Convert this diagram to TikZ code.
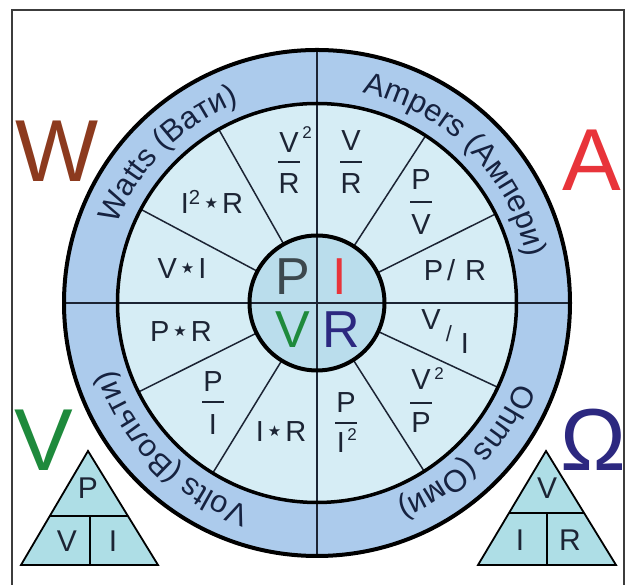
\documentclass[tikz,border=0pt]{standalone}
\usepackage{fontspec}
\setmainfont{Liberation Sans}
\newfontfamily\djv{DejaVu Sans}
\usetikzlibrary{decorations.text}
\definecolor{ringblue}{RGB}{172,203,236}
\definecolor{sectorblue}{RGB}{214,237,245}
\definecolor{coreblue}{RGB}{186,221,236}
\definecolor{tribox}{RGB}{174,222,230}
\definecolor{inktext}{RGB}{28,36,52}
\definecolor{ringink}{RGB}{22,34,64}
\definecolor{wbrown}{RGB}{140,58,30}
\definecolor{ared}{RGB}{232,52,58}
\definecolor{vgreen}{RGB}{30,138,60}
\definecolor{onavy}{RGB}{44,40,128}
\definecolor{coregray}{RGB}{60,72,78}
\definecolor{framegray}{RGB}{60,60,60}
\newcommand{\fsz}[1]{\fontsize{#1}{#1}\selectfont}
\newcommand{\mystar}{\hspace{4pt}\raisebox{5pt}{\djv\fsz{15}★}\hspace{4pt}}
\tikzset{
  fml/.style={font=\fsz{29}, text=inktext, inner sep=0pt},
  supr/.style={font=\fsz{17}, text=inktext, inner sep=0pt},
  fbar/.style={line width=1.9pt, draw=inktext},
  core/.style={font=\fsz{52}, inner sep=0pt},
  big/.style={font=\fsz{88}, inner sep=0pt},
  tri/.style={font=\fsz{30}, text=inktext, inner sep=0pt},
  ringtxt/.style={decorate, decoration={text along path, text align=center,
     text={|\fsz{31}\color{ringink}|#1}}}
}
\begin{document}
\begin{tikzpicture}[x=1pt,y=1pt]
\useasboundingbox (0,0) rectangle (632,585);
\coordinate (O) at (317,282);
% frame
\draw[framegray, line width=2pt] (12,-3) -- (12,575) -- (624,575) -- (624,-3);
% discs
\fill[ringblue] (O) circle[radius=253];
\fill[sectorblue] (O) circle[radius=199.5];
\foreach \a in {26.5,57,119.5,152,206.5,238.5,302.5,335}
  \draw[line width=1.5pt, inktext] ([shift={(\a:67.5)}]O) -- ([shift={(\a:199.5)}]O);
\fill[coreblue] (O) circle[radius=67.5];
\draw[line width=2pt, inktext] ([shift={(0,253)}]O) -- ([shift={(0,-253)}]O);
\draw[line width=2pt, inktext] ([shift={(-253,0)}]O) -- ([shift={(253,0)}]O);
\draw[line width=4pt] (O) circle[radius=253];
\draw[line width=3.5pt] (O) circle[radius=199.5];
\draw[line width=4pt] (O) circle[radius=67.5];
% ring texts
\path[ringtxt={Watts (Вати)}] ([shift={(180:215)}]O) arc[start angle=180, end angle=90, radius=215];
\path[ringtxt={Ampers (Ампери)}] ([shift={(90:215)}]O) arc[start angle=90, end angle=0, radius=215];
\path[ringtxt={Volts (Вольти)}] ([shift={(270:215)}]O) arc[start angle=270, end angle=180, radius=215];
\path[ringtxt={Ohms (Оми)}] ([shift={(360:215)}]O) arc[start angle=360, end angle=270, radius=215];
% core letters
\node[core, text=coregray] (cP) at (293,308) {P};
\node[core, text=ared] (cI) at (340,308) {I};
\node[core, text=vgreen] (cV) at (293,255) {V};
\node[core, text=onavy] (cR) at (341,255) {R};
% upper-left
\node[fml] (a1n) at (289,442) {V};
\node[supr] (a1s) at (307,452) {2};
\draw[fbar] (278,423) -- (300,423);
\node[fml] (a1d) at (289,401) {R};
\node[fml] (a2) at (212,383) {I\textsuperscript{2}\mystar R};
\node[fml] (a3) at (182,316) {V\mystar I};
% lower-left
\node[fml] (b1) at (181,253) {P\mystar R};
\node[fml] (b2n) at (213,203) {P};
\draw[fbar] (202,183) -- (224,183);
\node[fml] (b2d) at (213,160) {I};
\node[fml] (b3) at (281,153) {I\mystar R};
% upper-right
\node[fml] (c1n) at (351,444) {V};
\draw[fbar] (340,423) -- (362,423);
\node[fml] (c1d) at (351,401) {R};
\node[fml] (c2n) at (421,405) {P};
\draw[fbar] (410,383) -- (432,383);
\node[fml] (c2d) at (421,360) {V};
\node[fml] (c3) at (455,315) {P\hspace{4pt}/\hspace{10pt}R};
% lower-right
\node[fml] (d1v) at (431,265) {V};
\node[fml, font=\fsz{22}] (d1s) at (449,251) {/};
\node[fml] (d1i) at (465,241) {I};
\node[fml] (d2n) at (421,205) {V};
\node[supr] (d2s) at (439,211) {2};
\draw[fbar] (410,182) -- (432,182);
\node[fml] (d2d) at (421,162) {P};
\node[fml] (d3n) at (346,182) {P};
\draw[fbar] (335,162) -- (357,162);
\node[fml] (d3d) at (341,142) {I};
\node[supr] (d3s) at (352,150) {2};
% big letters
\node[big, text=wbrown] (bW) at (57,434) {W};
\node[big, text=ared] (bA) at (592,425) {A};
\node[big, text=vgreen] (bV) at (44,145) {V};
\node[big, text=onavy] (bO) at (593,145) {Ω};
% triangles
\draw[fill=tribox, line width=1.8pt, line join=miter] (21,20) -- (88,134) -- (158,20) -- cycle;
\draw[line width=1.5pt] (49.8,69) -- (127.9,69);
\draw[line width=1.5pt] (90,69) -- (90,20);
\node[tri] (tP) at (88,97) {P};
\node[tri] (tV) at (67,44) {V};
\node[tri] (tI) at (113,44) {I};
\draw[fill=tribox, line width=1.8pt, line join=miter] (478,20) -- (546,134) -- (616,20) -- cycle;
\draw[line width=1.5pt] (509,72) -- (584,72);
\draw[line width=1.5pt] (547,72) -- (547,20);
\node[tri] (sV) at (547,97) {V};
\node[tri] (sI) at (520,45) {I};
\node[tri] (sR) at (570,45) {R};
\end{tikzpicture}
\end{document}
